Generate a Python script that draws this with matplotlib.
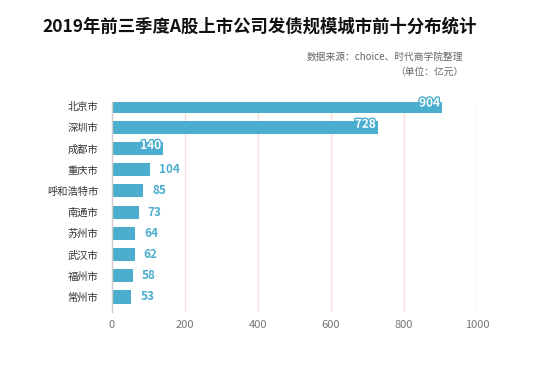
import matplotlib
matplotlib.use("Agg")
import matplotlib.pyplot as plt
import matplotlib.patheffects as pe
from matplotlib.transforms import offset_copy

plt.rcParams['font.family'] = ['Noto Sans CJK SC', 'DejaVu Sans']

cities = ["北京市", "深圳市", "成都市", "重庆市", "呼和浩特市", "南通市", "苏州市", "武汉市", "福州市", "常州市"]
values = [904, 728, 140, 104, 85, 73, 64, 62, 58, 53]
xticks = [0, 200, 400, 600, 800, 1000]

title = "2019年前三季度A股上市公司发债规模城市前十分布统计"
source = "数据来源：choice、时代商学院整理"
unit = "（单位：亿元）"

bar_color = "#4BAECE"
grid_color = "#F7E0E0"

fig = plt.figure(figsize=(5.49, 3.68), dpi=100)
ax = fig.add_axes([112/549, 1-312/368, (477-112)/549, 210/368])

y = list(range(len(cities)))
ax.barh(y, values, height=0.62, color=bar_color, zorder=3)
ax.set_ylim(9.71, -0.19)
ax.set_xlim(0, 1000)
ax.set_yticks(y)
ax.set_yticklabels(cities, fontsize=7.4, color="#333333")
ax.set_xticks(xticks)
ax.set_xticklabels([str(t) for t in xticks], fontsize=8, color="#777777")
ax.tick_params(axis='both', length=0)
ax.tick_params(axis='y', pad=10)
ax.tick_params(axis='x', pad=6)
for s in ["top", "right", "bottom"]:
    ax.spines[s].set_visible(False)
ax.spines["left"].set_color("#CCCCCC")
ax.spines["left"].set_linewidth(1.0)
ax.spines["left"].set_zorder(4)
for t in xticks[1:]:
    ax.axvline(t, color=grid_color, lw=1, zorder=1)

for i, v in enumerate(values):
    if i < 3:
        tr = offset_copy(ax.transData, fig=fig, x=-2, y=3, units='dots')
        ax.text(v, i, str(v), transform=tr, ha='right', va='center', fontsize=8.5,
                fontweight='bold', color='white', zorder=5,
                path_effects=[pe.withStroke(linewidth=2, foreground=bar_color)])
    else:
        tr = offset_copy(ax.transData, fig=fig, x=9, y=0, units='dots')
        ax.text(v, i, str(v), transform=tr, ha='left', va='center', fontsize=8.5,
                fontweight='bold', color=bar_color, zorder=5)

fig.text(260/549, 1-27/368, title, ha='center', va='center', fontsize=12.5, fontweight='bold', color='#111111')
fig.text(463/549, 1-57/368, source, ha='right', va='center', fontsize=7, color='#666666')
fig.text(463/549, 1-72/368, unit, ha='right', va='center', fontsize=7, color='#666666')

fig.savefig("out.png", dpi=100)
